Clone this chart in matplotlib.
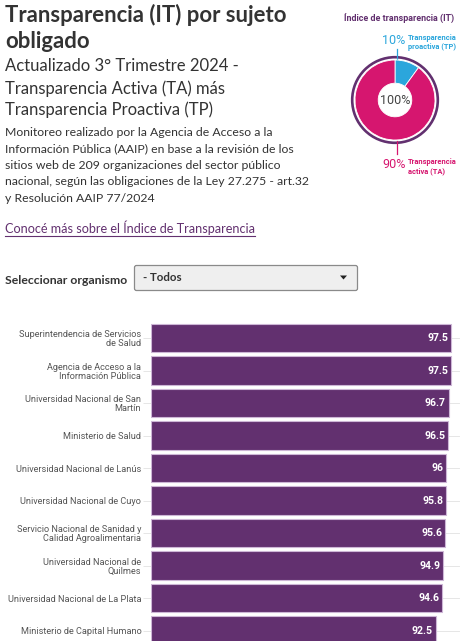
import matplotlib
matplotlib.use('Agg')
import matplotlib.pyplot as plt
from matplotlib.patches import FancyBboxPatch, Polygon, Circle

W = 472
H = 641
plt.rcParams['font.family'] = ['Lato', 'DejaVu Sans']

organismos = ['Superintendencia de Servicios\nde Salud',
              'Agencia de Acceso a la\nInformación Pública',
              'Universidad Nacional de San\nMartín',
              'Ministerio de Salud',
              'Universidad Nacional de Lanús',
              'Universidad Nacional de Cuyo',
              'Servicio Nacional de Sanidad y\nCalidad Agroalimentaria',
              'Universidad Nacional de\nQuilmes',
              'Universidad Nacional de La Plata',
              'Ministerio de Capital Humano']
indice = [97.5, 97.5, 96.7, 96.5, 96, 95.8, 95.6, 94.9, 94.6, 92.5]
indice_txt = ['97.5', '97.5', '96.7', '96.5', '96', '95.8', '95.6', '94.9', '94.6', '92.5']
composicion = [10, 90]

PURPLE = '#62306f'
PINK = '#d6166f'
BLUE = '#2ba6dc'
DARK = '#333333'
ROBOTO = ['Roboto', 'DejaVu Sans']

fig = plt.figure(figsize=(W/100, H/100), dpi=100, facecolor='white')

# page layer, in pixels
pg = fig.add_axes([0, 0, 1, 1])
pg.set_xlim(0, W)
pg.set_ylim(H, 0)
pg.axis('off')

pg.text(5, 22, 'Transparencia (IT) por sujeto', fontsize=15.9, fontweight='bold', color=DARK, va='baseline')
pg.text(5, 48, 'obligado', fontsize=15.9, fontweight='bold', color=DARK, va='baseline')
for y, s in zip([71, 94, 115], ['Actualizado 3° Trimestre 2024 -',
                                'Transparencia Activa (TA) más',
                                'Transparencia Proactiva (TP)']):
    pg.text(5, y, s, fontsize=12, color=DARK, va='baseline')
for y, s in zip([136, 152, 169, 185, 202], ['Monitoreo realizado por la Agencia de Acceso a la',
                                            'Información Pública (AAIP) en base a la revisión de los',
                                            'sitios web de 209 organizaciones del sector público',
                                            'nacional, según las obligaciones de la Ley 27.275 - art.32',
                                            'y Resolución AAIP 77/2024']):
    pg.text(5, y, s, fontsize=8.8, color=DARK, va='baseline')
pg.text(5, 233, 'Conocé más sobre el Índice de Transparencia', fontsize=9.1, color=PURPLE, va='baseline')
pg.plot([5, 255], [236, 236], color=PURPLE, lw=0.8)

pg.text(5, 284, 'Seleccionar organismo', fontsize=8.8, fontweight='bold', color=DARK, va='baseline')
pg.add_patch(FancyBboxPatch((134.5, 265.5), 223, 25, boxstyle='round,pad=0,rounding_size=2',
                            fc='#efefef', ec='#8a8a8a', lw=0.9))
pg.text(143, 281, '- Todos', fontsize=8.3, fontweight='bold', color=DARK, va='baseline')
pg.add_patch(Polygon([[340, 275.5], [347, 275.5], [343.5, 279.5]], fc='#222222', ec='none'))

# donut
pg.add_patch(Circle((395, 100), 42.8, fc='none', ec=PURPLE, lw=1.9))
don = fig.add_axes([(395-40)/W, 1-(100+40)/H, 80/W, 80/H])
don.pie(composicion, colors=[BLUE, PINK], startangle=90, counterclock=False, radius=1.0,
        wedgeprops=dict(width=0.58, edgecolor='white', linewidth=0.6))
don.set_xlim(-1, 1)
don.set_ylim(-1, 1)

pg.text(399, 19, 'Índice de transparencia (IT)', fontsize=6.4, fontweight='bold', color=PURPLE,
        ha='center', va='center', family=ROBOTO, zorder=5)
pg.text(394, 41, '10%', fontsize=9, color=BLUE, ha='center', va='center', family=ROBOTO)
pg.text(408, 38, 'Transparencia', fontsize=5.4, fontweight='bold', color=BLUE, va='center', family=ROBOTO)
pg.text(408, 47, 'proactiva (TP)', fontsize=5.4, fontweight='bold', color=BLUE, va='center', family=ROBOTO)
pg.plot([397, 397], [49, 60], color=BLUE, lw=0.9)
pg.text(394, 164, '90%', fontsize=9, color=PINK, ha='center', va='center', family=ROBOTO)
pg.text(408, 162, 'Transparencia', fontsize=5.4, fontweight='bold', color=PINK, va='center', family=ROBOTO)
pg.text(408, 171, 'activa (TA)', fontsize=5.4, fontweight='bold', color=PINK, va='center', family=ROBOTO)
pg.plot([397, 397], [141, 154], color=PINK, lw=0.9)
pg.text(395, 100, '100%', fontsize=9, color='#444444', ha='center', va='center', family=ROBOTO, zorder=5)

# bars
ax = fig.add_axes([151/W, 0, 321/W, (H-315)/H])
ax.patch.set_alpha(0)
pos = list(range(len(organismos)))
ax.barh(pos, indice, height=0.87, color=PURPLE, edgecolor='#cdb6d6', linewidth=0.8, zorder=3)
ax.set_xlim(0, 104.3)
ax.set_ylim(9.323, -0.708)
ax.set_yticks(pos)
ax.set_yticklabels(organismos, fontsize=6.6, color='#555555', linespacing=1.0, family=ROBOTO)
ax.set_xticks([])
ax.tick_params(axis='y', length=6, width=0.7, color='#e6e6e6', pad=1)
for i in pos:
    ax.plot([0, 100], [i, i], color='#e6e6e6', lw=0.7, zorder=1)
    ax.text(indice[i]-0.9, i, indice_txt[i], color='white', fontsize=7.6, fontweight='bold',
            ha='right', va='center', family=ROBOTO, zorder=4)
for s in ax.spines.values():
    s.set_visible(False)

fig.savefig('out.png', dpi=100)
